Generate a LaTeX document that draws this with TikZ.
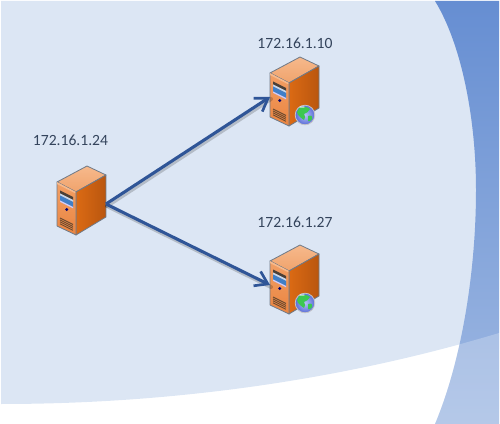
\documentclass[tikz,border=0pt]{standalone}
\usepackage{fontspec}
\setmainfont{Carlito}
\usetikzlibrary{arrows.meta}
\definecolor{pale}{HTML}{DCE6F4}
\definecolor{bandtop}{HTML}{668ED2}
\definecolor{bandbot}{HTML}{9EB8E2}
\definecolor{link}{HTML}{2F5597}
\definecolor{labelc}{HTML}{34445C}
\definecolor{edgec}{HTML}{6F7A88}
\definecolor{topa}{HTML}{F0A36C}
\definecolor{topb}{HTML}{F6B98C}
\definecolor{fronta}{HTML}{F2A066}
\definecolor{frontb}{HTML}{EA8440}
\definecolor{sidea}{HTML}{DB6A14}
\definecolor{sideb}{HTML}{B9560F}
\definecolor{slotd}{HTML}{4A4038}
\definecolor{slotb}{HTML}{3F7FC8}
\definecolor{vent}{HTML}{6A4A30}
\definecolor{globea}{HTML}{B4C4F4}
\definecolor{globeb}{HTML}{5A6CD8}
\definecolor{land}{HTML}{3CC850}
\tikzset{
  iplabel/.style={font=\fontsize{11.7pt}{13pt}\selectfont,text=labelc,inner sep=0pt,anchor=center},
  linkshadow/.style={line width=3pt,draw=black,opacity=.18,line cap=round},
  linkline/.style={line width=2.3pt,draw=link,-{Straight Barb[length=9pt,width=12pt,line width=2pt]}},
  faceedge/.style={draw=edgec,line width=.6pt,line join=round},
  pics/server/.style={code={
    \path[faceedge,top color=topb,bottom color=topa] (0,0)--(30,-16)--(49,-7)--(19,10)--cycle;
    \path[faceedge,left color=sidea,right color=sideb] (19,10)--(49,-7)--(49,35)--(19,53)--cycle;
    \path[faceedge,top color=fronta,bottom color=frontb] (0,0)--(19,10)--(19,53)--(0,44)--cycle;
    \fill[topb] (0,0)--(19,10)--(17.5,11)--(0,2)--cycle;
    \fill[slotd] (3,8.5)--(16,15)--(16,18)--(3,11.5)--cycle;
    \fill[white!70!slotb] (3,11.5)--(16,18)--(16,20)--(3,13.5)--cycle;
    \fill[slotb] (3,13.5)--(16,20)--(16,25)--(3,18.5)--cycle;
    \fill[white!80!blue] (3,18.5)--(16,25)--(16,26.3)--(3,19.8)--cycle;
    \fill[blue!45!black] (9.7,27.5) circle (1.7);
    \foreach \k in {0,1.9,3.8,5.8}{
      \draw[vent,line width=.7pt] (3,36+\k)--(16,42.5+\k);}
    \coordinate (-in) at (0,24);
    \coordinate (-out) at (49,22);
  }},
  pics/globe/.style={code={
    \path[draw=gray!45,line width=.6pt,inner color=globea,outer color=globeb] (0,0) circle (9.8);
    \fill[land] (-6,-7)..controls (-2,-9.5) and (3,-8) .. (5,-6)..controls (3,-3) and (2,-2)..(-1,-1)..controls (0,1) and (1,3)..(-1,5)..controls (-4,3) and (-8,0)..(-8,-3)--cycle;
    \fill[land] (3,1)..controls (6,0) and (8,1)..(7,4)..controls (6,6) and (4,7)..(3,6)--cycle;
    \fill[white,opacity=.5] (-3,-8) ellipse (3 and 1);
  }}
}
\begin{document}
\begin{tikzpicture}[x=.75pt,y=-.75pt]
\useasboundingbox (0,0) rectangle (500,424);
% backdrop
\fill[pale] (1,1)--(499,1)--(499,333)..controls (360,375) and (190,404) .. (1,404)--cycle;
\path[top color=bandtop,bottom color=bandbot]
  (435,1)..controls (462,45) and (476,120) .. (476,190)
  ..controls (476,270) and (462,360) .. (435,424)--(499,424)--(499,1)--cycle;
\begin{scope}
  \clip (435,1)..controls (462,45) and (476,120) .. (476,190)
  ..controls (476,270) and (462,360) .. (435,424)--(499,424)--(499,1)--cycle;
  \fill[white,opacity=.24] (499,333)..controls (360,375) and (190,404) .. (1,404)--(1,424)--(499,424)--cycle;
\end{scope}
% servers
\pic (a) at (57,182) {server};
\pic (b) at (270,73) {server};
\pic (c) at (270,261) {server};
\pic (bg) at (305,115) {globe};
\pic (cg) at (305,303) {globe};
% labels
\node[iplabel] (la) at (70.5,140.5) {172.16.1.24};
\node[iplabel] (lb) at (295,43) {172.16.1.10};
\node[iplabel] (lc) at (295,222) {172.16.1.27};
% connectors
\draw[linkshadow] ([shift={(1,2)}]a-out)--([shift={(1,2)}]b-in);
\draw[linkshadow] ([shift={(1,2)}]a-out)--([shift={(1,2)}]c-in);
\draw[linkline] (a-out)--(b-in);
\draw[linkline] (a-out)--(c-in);
\end{tikzpicture}
\end{document}
